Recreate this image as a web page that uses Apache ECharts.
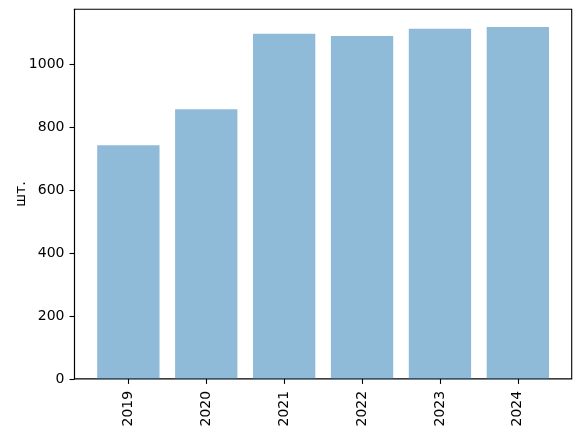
<!DOCTYPE html>
<html>
<head>
<meta charset="utf-8">
<script src="https://cdn.jsdelivr.net/npm/echarts@6/dist/echarts.min.js"></script>
<style>html,body{margin:0;padding:0;background:#fff}#c{width:580px;height:434px}</style>
</head>
<body>
<div id="c"></div>
<script>
const categories = ['2019', '2020', '2021', '2022', '2023', '2024'];
const values = [743, 857, 1097, 1090, 1113, 1119];
const yTicks = [0, 200, 400, 600, 800, 1000];
const yLabel = 'шт.';

const chart = echarts.init(document.getElementById('c'), null, {renderer: 'canvas'});
const font = 'DejaVu Sans';
const yMax = 1175;
chart.setOption({
  animation: false,
  backgroundColor: '#ffffff',
  grid: [
    {left: 74.5, right: 8.3, top: 9.3, bottom: 55.1, show: true, borderColor: '#000', borderWidth: 1.1, backgroundColor: 'transparent', containLabel: false, outerBoundsMode: 'none'},
    {left: 89.4, right: 23.2, top: 9.3, bottom: 55.1, containLabel: false, outerBoundsMode: 'none'}
  ],
  xAxis: [
    {type: 'category', gridIndex: 0, data: categories, show: false},
    {type: 'category', gridIndex: 1, data: categories,
     axisLine: {show: false},
     axisTick: {show: true, alignWithLabel: true, length: 5, lineStyle: {color: '#000', width: 1.1}},
     axisLabel: {rotate: 90, margin: 12, color: '#000', fontFamily: font, fontSize: 14}}
  ],
  yAxis: [
    {type: 'value', gridIndex: 0, min: 0, max: yMax,
     name: yLabel, nameLocation: 'middle', nameGap: 46, nameMoveOverlap: false,
     nameTextStyle: {color: '#000', fontFamily: font, fontSize: 14},
     axisLine: {show: true, lineStyle: {color: '#000', width: 1.1}},
     axisTick: {show: true, length: 5, lineStyle: {color: '#000', width: 1.1}, customValues: yTicks},
     axisLabel: {color: '#000', fontFamily: font, fontSize: 14, margin: 10, customValues: yTicks,
                 formatter: function (v) { return String(v); }},
     splitLine: {show: false}},
    {type: 'value', gridIndex: 1, min: 0, max: yMax, show: false, splitLine: {show: false}}
  ],
  series: [{
    type: 'bar', xAxisIndex: 1, yAxisIndex: 1,
    data: values, barWidth: '80%',
    itemStyle: {color: '#1f77b4', opacity: 0.5}
  }]
});
</script>
</body>
</html>
